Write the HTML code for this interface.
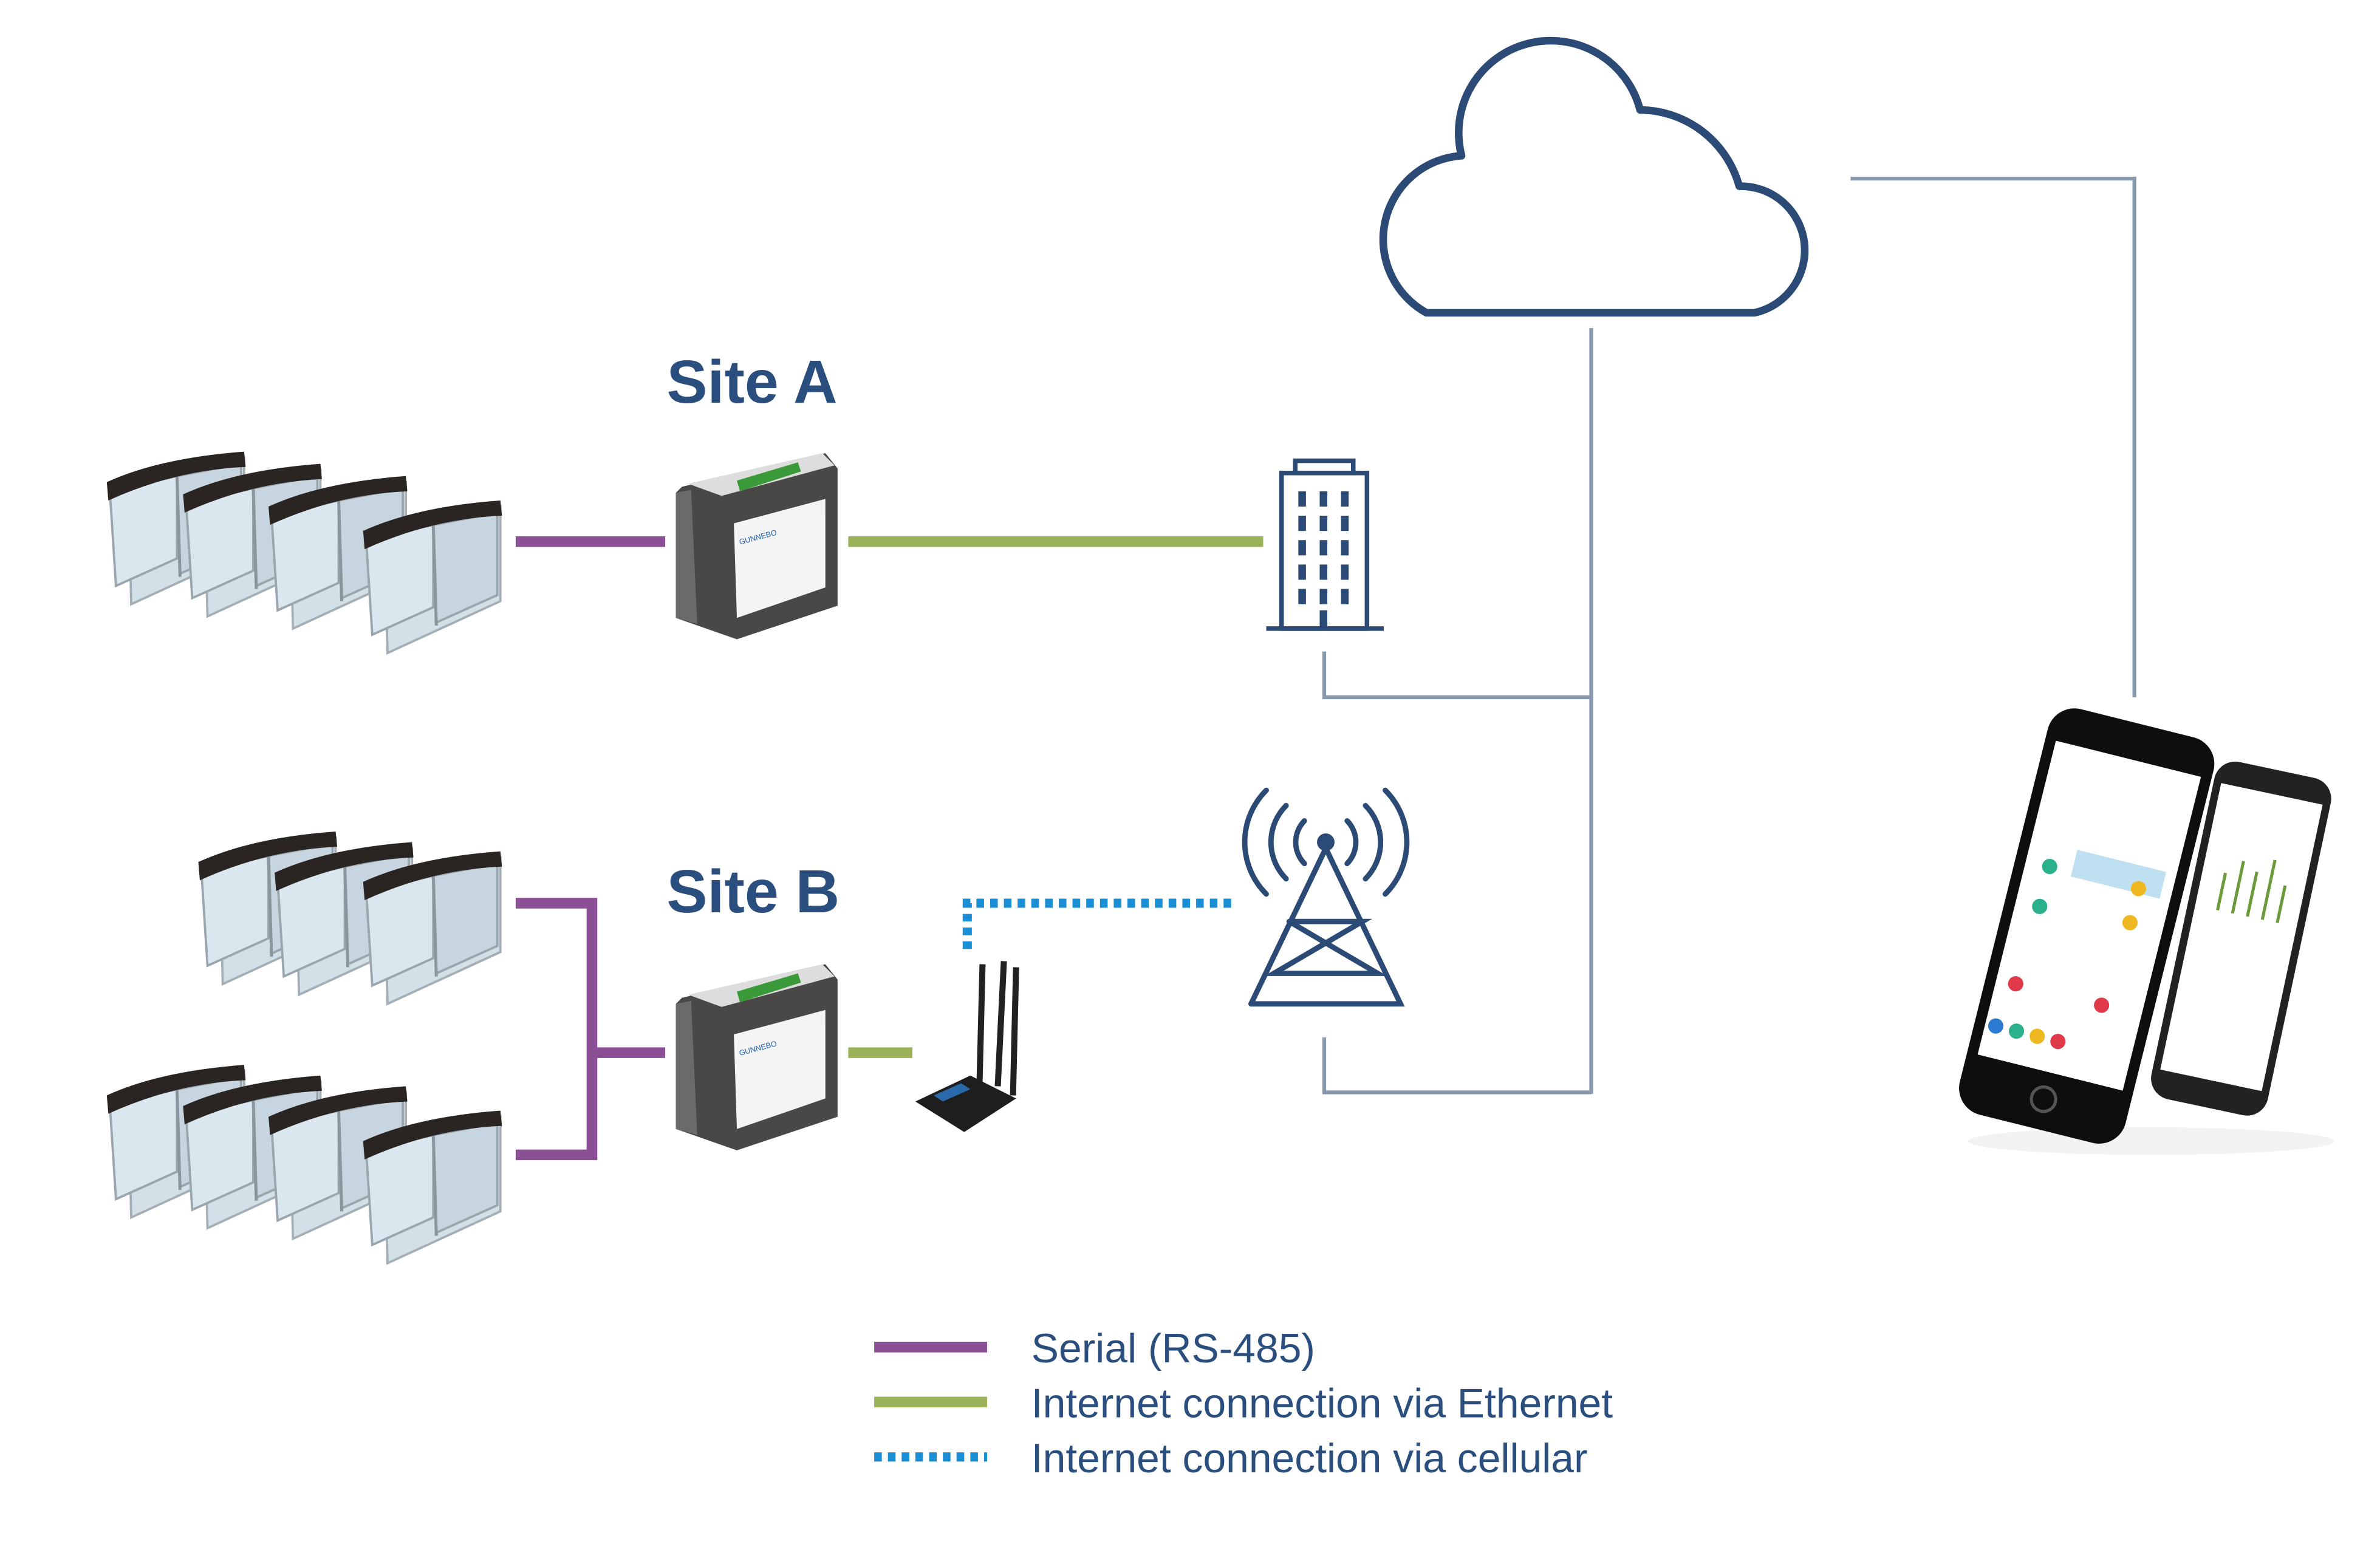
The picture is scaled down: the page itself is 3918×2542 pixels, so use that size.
<!DOCTYPE html>
<html><head><meta charset="utf-8"><style>html,body{margin:0;padding:0;background:#fff}svg{display:block}</style></head>
<body>
<svg width="3918" height="2542" viewBox="0 0 1560 1012" xmlns="http://www.w3.org/2000/svg">
<defs>
<g id="gate">
<polygon points="14,10 90,-4 90,58 16,92" fill="#cfdde6" stroke="#9aa6ae" stroke-width="1.5" opacity="0.9"/>
<polygon points="2,18 46,8 46,62 6,80" fill="#dbe7ef" stroke="#9aa6ae" stroke-width="1.5"/>
<polygon points="46,8 88,0 88,54 48,72" fill="#c6d5df" stroke="#9aa6ae" stroke-width="1.5"/>
<line x1="46" y1="8" x2="48" y2="74" stroke="#8a969e" stroke-width="2"/>
<path d="M0,12 Q35,-4 90,-8 L91,2 Q45,4 1,24 Z" fill="#2a2522"/>
</g>
<g id="dev">
<polygon points="4,22 98,0 106,10 106,100 40,122 0,108 0,26" fill="#4a4846"/>
<polygon points="8,20 96,0 104,8 30,28" fill="#ddd"/>
<polygon points="40,18 80,6 82,12 42,25" fill="#3a9a3a"/>
<polygon points="38,46 98,30 98,88 40,108" fill="#f4f4f4"/>
<polygon points="0,26 10,24 14,112 0,108" fill="#6c6a68"/>
<text x="42" y="60" font-family="Liberation Sans,sans-serif" font-size="5" fill="#1a5fb0" transform="rotate(-15 42 60)">GUNNEBO</text>
</g>
</defs>

<!-- cloud -->
<path d="M935,205 A55,55 0 0 1 958,102 A60,60 0 0 1 1075,72 A68,68 0 0 1 1140,122 A42,42 0 0 1 1150,205 Z" fill="none" stroke="#2b4a75" stroke-width="5" stroke-linejoin="round"/>

<!-- gray connectors -->
<g fill="none" stroke="#8a9aae" stroke-width="2.5">
<polyline points="1213,117 1399,117 1399,457"/>
<line x1="1043" y1="215" x2="1043" y2="717"/>
<polyline points="868,427 868,457 1043,457"/>
<polyline points="868,680 868,716 1043,716"/>
</g>

<!-- purple -->
<g stroke="#8b4f96" stroke-width="7" fill="none">
<line x1="338" y1="355" x2="436" y2="355"/>
<polyline points="338,592 388,592 388,757 338,757"/>
<line x1="388" y1="690" x2="436" y2="690"/>
<line x1="573" y1="883" x2="647" y2="883"/>
</g>
<!-- green -->
<g stroke="#9bb158" stroke-width="7">
<line x1="556" y1="355" x2="828" y2="355"/>
<line x1="556" y1="690" x2="598" y2="690"/>
<line x1="573" y1="919" x2="647" y2="919"/>
</g>
<!-- blue dotted -->
<g stroke="#1a8fd6" stroke-width="6" fill="none" stroke-dasharray="5,4">
<polyline points="634,622 634,592 808,592"/>
<line x1="573" y1="955" x2="647" y2="955"/>
</g>

<!-- titles -->
<text x="437" y="264" font-family="Liberation Sans,sans-serif" font-weight="bold" font-size="40" fill="#2a4f7f">Site A</text>
<text x="437" y="598" font-family="Liberation Sans,sans-serif" font-weight="bold" font-size="40" fill="#2a4f7f">Site B</text>

<!-- legend -->
<g font-family="Liberation Sans,sans-serif" font-size="27" fill="#2a4f7f">
<text x="676" y="893">Serial (RS-485)</text>
<text x="676" y="929">Internet connection via Ethernet</text>
<text x="676" y="965">Internet connection via cellular</text>
</g>

<!-- building -->
<g fill="none" stroke="#2b4a75" stroke-width="3">
<rect x="840" y="310" width="56" height="102"/>
<rect x="849" y="302" width="38" height="8"/>
<line x1="830" y1="412" x2="907" y2="412"/>
</g>
<g fill="#2b4a75">
<rect x="851" y="322" width="5" height="10"/><rect x="865" y="322" width="5" height="10"/><rect x="879" y="322" width="5" height="10"/>
<rect x="851" y="338" width="5" height="10"/><rect x="865" y="338" width="5" height="10"/><rect x="879" y="338" width="5" height="10"/>
<rect x="851" y="354" width="5" height="10"/><rect x="865" y="354" width="5" height="10"/><rect x="879" y="354" width="5" height="10"/>
<rect x="851" y="370" width="5" height="10"/><rect x="865" y="370" width="5" height="10"/><rect x="879" y="370" width="5" height="10"/>
<rect x="851" y="386" width="5" height="10"/><rect x="865" y="386" width="5" height="10"/><rect x="879" y="386" width="5" height="10"/>
<rect x="865" y="400" width="5" height="12"/>
</g>

<!-- tower -->
<g fill="none" stroke="#2b4a75" stroke-width="3.5" stroke-linecap="round">
<circle cx="869" cy="552" r="4" fill="#2b4a75"/>
<path d="M855,538 A20,20 0 0 0 855,566 M883,538 A20,20 0 0 1 883,566"/>
<path d="M843,528 A34,34 0 0 0 843,576 M895,528 A34,34 0 0 1 895,576"/>
<path d="M830,518 A48,48 0 0 0 830,586 M908,518 A48,48 0 0 1 908,586"/>
<polyline points="820,658 869,556 918,658 820,658"/>
<polyline points="845,604 893,604 835,638 903,638 845,604"/>
</g>

<!-- gates -->
<use href="#gate" transform="translate(70,304)"/>
<use href="#gate" transform="translate(120,312)"/>
<use href="#gate" transform="translate(176,320)"/>
<use href="#gate" transform="translate(238,336)"/>
<use href="#gate" transform="translate(130,553)"/>
<use href="#gate" transform="translate(180,560)"/>
<use href="#gate" transform="translate(238,566)"/>
<use href="#gate" transform="translate(70,706)"/>
<use href="#gate" transform="translate(120,713)"/>
<use href="#gate" transform="translate(176,720)"/>
<use href="#gate" transform="translate(238,736)"/>

<!-- devices -->
<use href="#dev" transform="translate(443,297)"/>
<use href="#dev" transform="translate(443,632)"/>

<!-- router -->
<g>
<line x1="642" y1="712" x2="644" y2="632" stroke="#222" stroke-width="4"/>
<line x1="654" y1="712" x2="658" y2="630" stroke="#222" stroke-width="4"/>
<line x1="664" y1="718" x2="666" y2="634" stroke="#222" stroke-width="4"/>
<polygon points="600,722 636,705 666,720 632,742" fill="#1e1e1e"/>
<polygon points="612,718 630,710 636,714 618,722" fill="#2a6aaa"/>
</g>

<!-- phones -->
<ellipse cx="1410" cy="748" rx="120" ry="9" fill="#ececec" opacity="0.7"/>
<g transform="rotate(12 1468 615)">
<rect x="1430" y="502" width="78" height="226" rx="14" fill="#222"/>
<rect x="1435" y="518" width="68" height="192" fill="#fff"/>
<g stroke="#6a9a3a" stroke-width="2"><line x1="1450" y1="600" x2="1450" y2="575"/><line x1="1460" y1="600" x2="1460" y2="565"/><line x1="1470" y1="600" x2="1470" y2="570"/><line x1="1480" y1="600" x2="1480" y2="560"/><line x1="1490" y1="600" x2="1490" y2="575"/></g>
</g>
<g transform="rotate(14 1368 606)">
<rect x="1312" y="470" width="112" height="274" rx="18" fill="#0e0e0e"/>
<rect x="1319" y="494" width="98" height="212" fill="#fff"/>
<circle cx="1368" cy="724" r="8" fill="none" stroke="#555" stroke-width="2"/>
<rect x="1350" y="560" width="60" height="18" fill="#bfe0f0"/>
<circle cx="1335" cy="575" r="5" fill="#2ab08a"/><circle cx="1335" cy="602" r="5" fill="#2ab08a"/>
<circle cx="1395" cy="575" r="5" fill="#f0b820"/><circle cx="1395" cy="598" r="5" fill="#f0b820"/>
<circle cx="1332" cy="655" r="5" fill="#e03a4a"/><circle cx="1390" cy="655" r="5" fill="#e03a4a"/>
<circle cx="1326" cy="685" r="5" fill="#2a7ad0"/><circle cx="1340" cy="685" r="5" fill="#2ab08a"/><circle cx="1354" cy="685" r="5" fill="#f0b820"/><circle cx="1368" cy="685" r="5" fill="#e03a4a"/>
</g>
</svg>
</body></html>
